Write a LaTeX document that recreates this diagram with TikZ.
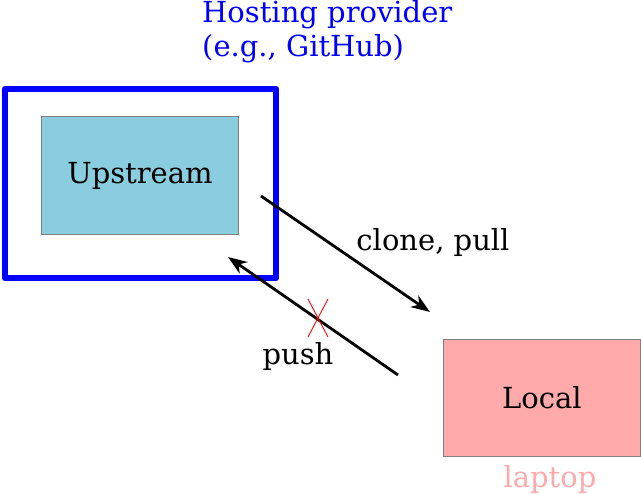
\documentclass[tikz,border=0pt]{standalone}
\usepackage{fontspec}
\setmainfont{DejaVu Serif}
\usetikzlibrary{arrows.meta}
\definecolor{upblue}{HTML}{89CDDE}
\definecolor{locpink}{HTML}{FFAAAA}
\begin{document}
\begin{tikzpicture}[x=1pt,y=-1pt,
  box/.style={draw=gray, line width=1pt, inner sep=0pt, anchor=north west},
  lbl/.style={font=\fontsize{29}{34}\selectfont, inner sep=0pt},
  conn/.style={line width=2.8pt, -{Stealth[length=19pt,width=14pt,inset=6pt]}}]
\useasboundingbox (0,0) rectangle (641,494);
\draw[blue, line width=6.5pt, line join=round] (5,89) rectangle (276,278);
\node[box, fill=upblue, minimum width=197pt, minimum height=118pt] (up) at (41,116) {};
\node[lbl] at (up.center) {Upstream};
\node[box, fill=locpink, minimum width=197pt, minimum height=117pt] (loc) at (443,339) {};
\node[lbl] at (loc.center) {Local};
\node[lbl, text=blue, anchor=west, align=left] (host) at (202,32) {Hosting provider\\(e.g., GitHub)};
\node[lbl, text=locpink] (lap) at (550,480) {laptop};
\coordinate (a1s) at (261,196);
\coordinate (a1e) at (430,312);
\coordinate (a2s) at (398,375);
\coordinate (a2e) at (228,257);
\draw[conn] (a1s) -- (a1e);
\draw[conn] (a2s) -- (a2e);
\node[lbl] (cp) at (433,243) {clone, pull};
\node[lbl] (push) at (298,357) {push};
\coordinate (x1) at (308,299);
\coordinate (x2) at (328,337);
\coordinate (x3) at (328,299);
\coordinate (x4) at (308,337);
\draw[red, line width=0.9pt] (x1) -- (x2) (x3) -- (x4);
\end{tikzpicture}
\end{document}
